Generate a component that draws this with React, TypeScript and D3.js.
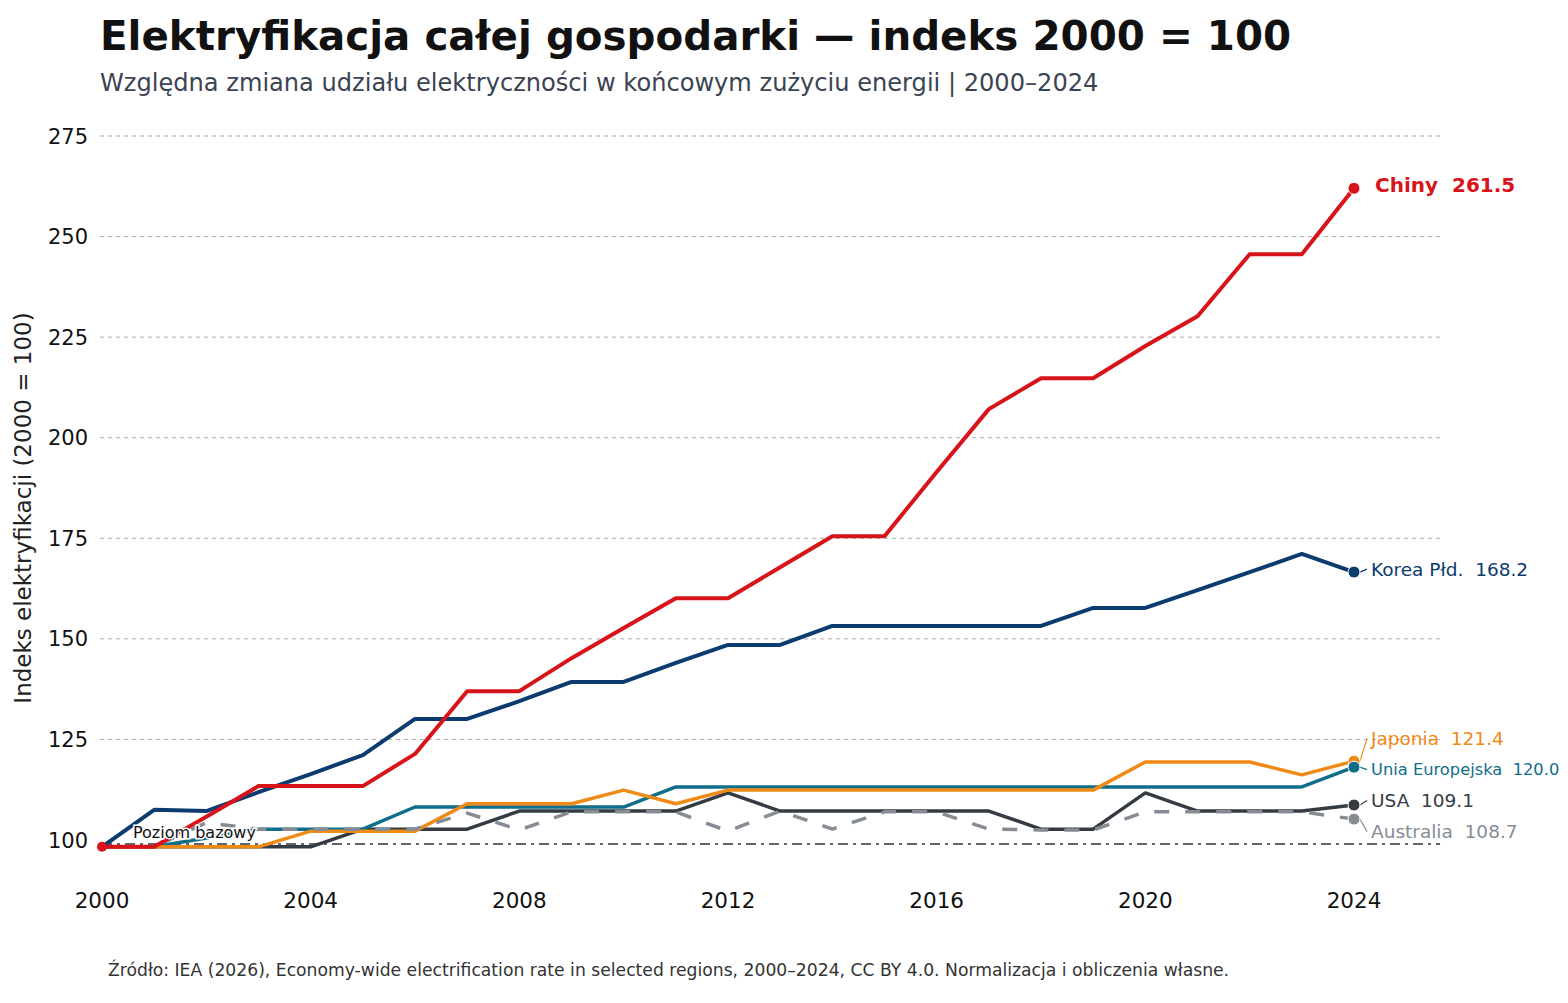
import { useEffect, useRef } from 'react';
import * as d3 from 'd3';

// Index 2000 = 100
const YEARS = d3.range(2000, 2025);
const CHINA = [98.3, 98.3, 105.8, 113.4, 113.4, 113.4, 121.4, 137.0, 137.0, 145.2, 152.7, 160.1, 160.1, 167.8, 175.5, 175.5, 191.5, 207.1, 214.8, 214.8, 222.8, 230.2, 245.6, 245.6, 262.0];
const KOREA = [98.3, 107.5, 107.2, 111.9, 116.4, 121.1, 130.1, 130.1, 134.5, 139.3, 139.3, 144.0, 148.5, 148.5, 153.2, 153.2, 153.2, 153.2, 153.2, 157.7, 157.7, 162.1, 166.6, 171.1, 166.6];
const EU = [98.3, 98.3, 100.5, 102.7, 102.7, 102.7, 108.2, 108.2, 108.2, 108.2, 108.2, 113.2, 113.2, 113.2, 113.2, 113.2, 113.2, 113.2, 113.2, 113.2, 113.2, 113.2, 113.2, 113.2, 118.1];
const JAPAN = [98.3, 98.3, 98.3, 98.3, 102.2, 102.2, 102.2, 109.0, 109.0, 109.0, 112.4, 109.0, 112.4, 112.4, 112.4, 112.4, 112.4, 112.4, 112.4, 112.4, 119.4, 119.4, 119.4, 116.2, 119.6];
const USA = [98.3, 98.3, 98.3, 98.3, 98.3, 102.7, 102.7, 102.7, 107.2, 107.2, 107.2, 107.2, 111.7, 107.2, 107.2, 107.2, 107.2, 107.2, 102.7, 102.7, 111.7, 107.2, 107.2, 107.2, 108.7];
const AUSTRALIA = [98.3, 98.3, 104.3, 102.7, 102.7, 102.7, 102.7, 106.7, 102.5, 107.0, 107.0, 107.0, 102.2, 107.2, 102.7, 107.0, 107.0, 102.7, 102.5, 102.5, 107.0, 107.0, 107.0, 107.0, 105.2];
const END_LABELS = ['261.5', '168.2', '121.4', '120.0', '109.1', '108.7'];
const Y_TICKS = [100, 125, 150, 175, 200, 225, 250, 275];
const X_TICKS = [2000, 2004, 2008, 2012, 2016, 2020, 2024];
const BASELINE = 99;

const SERIES = [
  { name: 'USA', values: USA, label: END_LABELS[4], color: '#343b43', dash: null, width: 3.5 },
  { name: 'Unia Europejska', values: EU, label: END_LABELS[3], color: '#0f6e8a', dash: null, width: 3.5 },
  { name: 'Japonia', values: JAPAN, label: END_LABELS[2], color: '#ef8a17', dash: null, width: 3.5 },
  { name: 'Australia', values: AUSTRALIA, label: END_LABELS[5], color: '#868c94', dash: '15,16', width: 3.5 },
  { name: 'Korea Płd.', values: KOREA, label: END_LABELS[1], color: '#0b3b6f', dash: null, width: 4 },
  { name: 'Chiny', values: CHINA, label: END_LABELS[0], color: '#d7141a', dash: null, width: 4 },
];

const W = 1568;
const H = 1003;
const FONT = "'DejaVu Sans', sans-serif";

export default function App() {
  const svgRef = useRef<SVGSVGElement>(null);

  useEffect(() => {
    document.body.style.margin = '0';
    if (!svgRef.current) return;
    const svg = d3.select(svgRef.current);
    svg.selectAll('*').remove();

    const x = d3.scaleLinear().domain([2000, 2024]).range([102, 1354]);
    const y = d3.scaleLinear().domain([100, 275]).range([840, 136]);
    const xEnd = x(2025.65);

    svg.append('rect').attr('width', W).attr('height', H).attr('fill', '#fff');

    // ── Titles ─────────────────────────────────────────────
    svg.append('text').attr('x', 100).attr('y', 50)
      .attr('font-family', FONT).attr('font-weight', 'bold').attr('font-size', 40.4).attr('fill', '#111')
      .text('Elektryfikacja całej gospodarki — indeks 2000 = 100');
    svg.append('text').attr('x', 100).attr('y', 91)
      .attr('font-family', FONT).attr('font-size', 24.1).attr('fill', '#3b4453')
      .text('Względna zmiana udziału elektryczności w końcowym zużyciu energii | 2000–2024');

    // ── Grid ───────────────────────────────────────────────
    const g = svg.append('g');
    g.selectAll('.grid').data(Y_TICKS.filter(d => d > 100)).enter().append('line')
      .attr('x1', 100).attr('x2', xEnd)
      .attr('y1', d => y(d)).attr('y2', d => y(d))
      .attr('stroke', '#ababab').attr('stroke-width', 1).attr('stroke-dasharray', '4,4');

    // baseline
    g.append('line')
      .attr('x1', x(2000)).attr('x2', xEnd)
      .attr('y1', y(BASELINE)).attr('y2', y(BASELINE))
      .attr('stroke', '#333').attr('stroke-width', 1.6).attr('stroke-dasharray', '10,5,3,5');

    // ── Axes labels ────────────────────────────────────────
    g.selectAll('.ytick').data(Y_TICKS).enter().append('text')
      .attr('x', 88).attr('y', d => y(d)).attr('dy', '0.36em')
      .attr('text-anchor', 'end').attr('font-family', FONT).attr('font-size', 21).attr('fill', '#111')
      .text(d => d);
    g.selectAll('.xtick').data(X_TICKS).enter().append('text')
      .attr('x', d => x(d)).attr('y', 908)
      .attr('text-anchor', 'middle').attr('font-family', FONT).attr('font-size', 21.5).attr('fill', '#111')
      .text(d => d);
    svg.append('text')
      .attr('transform', `translate(31, ${(y(100) + y(275)) / 2 + 20}) rotate(-90)`)
      .attr('text-anchor', 'middle').attr('font-family', FONT).attr('font-size', 23).attr('fill', '#222')
      .text('Indeks elektryfikacji (2000 = 100)');

    // ── Lines ──────────────────────────────────────────────
    const line = d3.line<number>().x((_, i) => x(YEARS[i])).y(d => y(d));
    SERIES.forEach(s => {
      g.append('path').datum(s.values)
        .attr('fill', 'none').attr('stroke', s.color).attr('stroke-width', s.width)
        .attr('stroke-linejoin', 'round')
        .attr('stroke-dasharray', s.dash)
        .attr('d', line);
    });

    // baseline label
    svg.append('text').attr('x', 133).attr('y', 838)
      .attr('font-family', FONT).attr('font-size', 16).attr('fill', '#111')
      .attr('stroke', '#fff').attr('stroke-width', 3).attr('paint-order', 'stroke')
      .text('Poziom bazowy');

    // start dot
    g.append('circle').attr('cx', x(2000)).attr('cy', y(CHINA[0])).attr('r', 5).attr('fill', '#d7141a');

    // ── End labels with simple collision avoidance ─────────
    const last = YEARS.length - 1;
    const ends = SERIES.map(s => ({ ...s, py: y(s.values[last]), ly: y(s.values[last]) - 3 }))
      .sort((a, b) => a.py - b.py);
    const gap = 31;
    for (let k = 0; k < 200; k++) {
      for (let i = 1; i < ends.length; i++) {
        const d = ends[i].ly - ends[i - 1].ly;
        if (d < gap) {
          const shift = (gap - d) / 2;
          ends[i].ly += shift;
          ends[i - 1].ly -= shift;
        }
      }
    }
    const dx = x(2024);
    ends.forEach(e => {
      const bold = e.name === 'Chiny';
      const lx = dx + (bold ? 21 : 17);
      if (!bold) {
        g.append('line')
          .attr('x1', dx + 6).attr('y1', e.py).attr('x2', lx - 4).attr('y2', e.ly)
          .attr('stroke', e.color).attr('stroke-width', 1.2);
      }
      g.append('circle').attr('cx', dx).attr('cy', e.py).attr('r', 6)
        .attr('fill', e.color).attr('stroke', '#fff').attr('stroke-width', 1);
      let size = bold ? 20 : 18.5;
      const t = g.append('text')
        .attr('x', lx).attr('y', e.ly).attr('dy', '0.36em')
        .attr('font-family', FONT).attr('font-size', size)
        .attr('font-weight', bold ? 'bold' : 'normal')
        .attr('fill', e.color)
        .style('white-space', 'pre')
        .text(`${e.name}  ${e.label}`);
      const node = t.node() as SVGTextElement;
      const avail = W - 8 - lx;
      const len = node.getComputedTextLength();
      if (len > avail) {
        size = Math.floor((size * avail / len) * 10) / 10;
        t.attr('font-size', size);
      }
    });

    // ── Source ─────────────────────────────────────────────
    svg.append('text').attr('x', 108).attr('y', 976)
      .attr('font-family', FONT).attr('font-size', 17.2).attr('fill', '#333')
      .text('Źródło: IEA (2026), Economy-wide electrification rate in selected regions, 2000–2024, CC BY 4.0. Normalizacja i obliczenia własne.');
  }, []);

  return <svg ref={svgRef} width={W} height={H} style={{ display: 'block' }} />;
}
